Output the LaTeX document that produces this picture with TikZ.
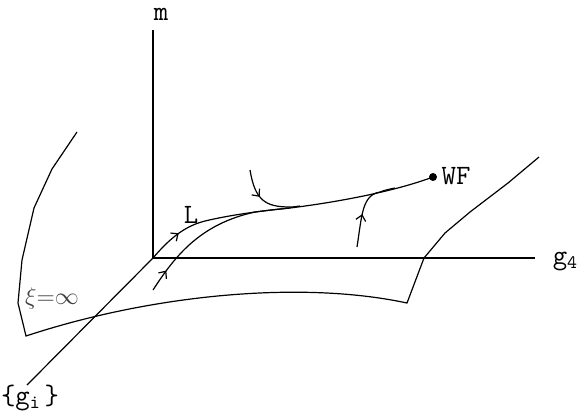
\documentclass[tikz,border=0pt]{standalone}
\usetikzlibrary{decorations.markings,arrows.meta}
\newcommand{\subtt}[1]{\raisebox{-2.2pt}{\fontsize{9.5}{9.5}\selectfont #1}}
\begin{document}
\begin{tikzpicture}[x=0.5pt,y=-0.5pt, line width=0.6pt,
  lbl/.style={font=\ttfamily\fontsize{14}{16}\selectfont, inner sep=0pt},
  flow/.style={postaction={decorate},decoration={markings,
     mark=at position #1 with {\arrow{Straight Barb[length=2.8pt,width=5pt,line width=0.6pt]}}}},
  dotpt/.style={circle,fill=black,inner sep=0pt,minimum size=4pt}]
\useasboundingbox (0,0) rectangle (577,414);
% axes
\coordinate (O) at (153,258);
\coordinate (mtop) at (153,30);
\coordinate (g4end) at (535,258);
\coordinate (giend) at (27,385);
\draw (mtop) -- (O) -- (g4end);
\draw (O) -- (giend);
\node[lbl] (m) at (161,14) {m};
\node[lbl] (g4) at (565,261) {g\subtt{4}};
\node[lbl] (gi) at (30,398) {\{g\subtt{i}\,\}};
% surface xi = infinity
\draw (77,132) -- (52,169) -- (34,208) -- (22,260) -- (18,303) -- (26,336)
  .. controls (150,295) and (300,280) .. (407,303)
  -- (424,258) -- (445,233) -- (470,212) -- (508,183) -- (539,157);
\node[inner sep=0pt, text=black!75, font=\fontsize{12}{14}\selectfont] (xi) at (52,298) {$\xi{=}\infty$};
% fixed point
\coordinate (wfc) at (433,177);
\node[lbl, anchor=west] (wflbl) at (441,176) {WF};
\node[lbl] (L) at (191,215) {L};
% flow lines
\draw[flow=0.12] (O) .. controls (170,238) and (185,226) .. (205,221)
  .. controls (230,215) and (260,211) .. (290,208)
  .. controls (330,203) and (390,193) .. (wfc);
\draw[flow=0.14] (153,290) .. controls (175,256) and (200,224) .. (255,212)
  .. controls (270,210) and (280,209) .. (290,208);
\draw[flow=0.4] (250,170) .. controls (255,200) and (265,207) .. (290,207)
  .. controls (295,207) and (298,206) .. (300,206);
\draw[flow=0.42] (357,247) .. controls (362,215) and (362,195) .. (380,192)
  .. controls (385,190) and (390,189) .. (395,188);
\node[dotpt] (wf) at (wfc) {};
\end{tikzpicture}
\end{document}
